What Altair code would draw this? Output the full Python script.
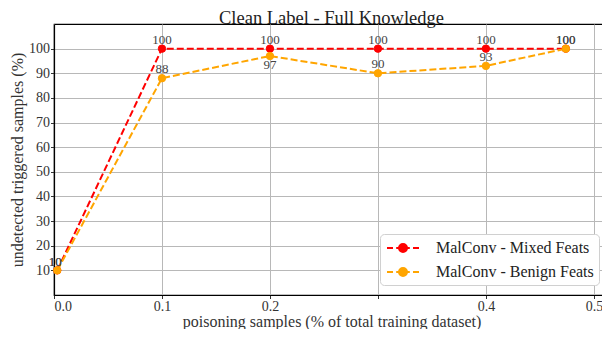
import altair as alt
import pandas as pd

x_vals = [0.003, 0.1, 0.2, 0.3, 0.4, 0.474]
mixed = [10, 100, 100, 100, 100, 100]
benign = [10, 88, 97, 90, 93, 100]
series_names = ["MalConv - Mixed Feats", "MalConv - Benign Feats"]
colors = ["#ff0000", "#ffa500"]

rows = []
for i, x in enumerate(x_vals):
    rows.append({"x": x, "y": mixed[i], "series": series_names[0], "order": 0})
for i, x in enumerate(x_vals):
    rows.append({"x": x, "y": benign[i], "series": series_names[1], "order": 1})
df = pd.DataFrame(rows)

FONT = "Liberation Serif"

xs = alt.Scale(domain=[0, 0.514], nice=False, zero=False)
ys = alt.Scale(domain=[0, 110], nice=False)
cs = alt.Scale(domain=series_names, range=colors)

sym_path = ("M-2,0H-1.25M-0.85,0H-0.5M0.5,0H0.85M1.25,0H2"
            "M-0.5,0A0.5,0.5 0 1,1 0.5,0A0.5,0.5 0 1,1 -0.5,0Z")

axis_style = dict(labelFont=FONT, labelFontSize=14, labelColor="#333",
                  titleFont=FONT, titleFontSize=16, titleFontWeight="normal",
                  titleColor="#333", tickSize=3.5, labelPadding=1)

X = alt.X("x:Q", scale=xs, title="poisoning samples (% of total training dataset)",
          axis=alt.Axis(values=[0, 0.1, 0.2, 0.3, 0.4, 0.5], titlePadding=0,
                        labelExpr="abs(datum.value-0.3)<0.001 ? '' : format(datum.value,'.1f')",
                        **axis_style))
Y = alt.Y("y:Q", scale=ys, title="undetected triggered samples (%)",
          axis=alt.Axis(values=[10, 20, 30, 40, 50, 60, 70, 80, 90, 100], titlePadding=3,
                        **axis_style))

legend = alt.Legend(
    title=None, orient="bottom-right", symbolType=sym_path, symbolSize=256,
    symbolStrokeWidth=2, labelFont=FONT, labelFontSize=16, labelColor="#222",
    padding=5, rowPadding=7, offset=10, strokeColor="#d0d0d0", fillColor="white",
    cornerRadius=4, labelOffset=24, symbolOffset=9,
)

base = alt.Chart(df)

lines = base.mark_line(strokeDash=[7, 3], strokeWidth=2).encode(
    x=X, y=Y,
    stroke=alt.Stroke("series:N", scale=cs, legend=legend),
    detail="series:N",
)

points = base.mark_point(filled=True, size=55, opacity=1, strokeWidth=1).encode(
    x=X, y=Y,
    fill=alt.Fill("series:N", scale=cs, legend=legend),
    stroke=alt.Stroke("series:N", scale=cs, legend=legend),
    order="order:Q",
)

lbl = dict(font=FONT, fontSize=13, color="#444", baseline="alphabetic")
above = base.transform_filter(
    ~((alt.datum.y == 97) & (alt.datum.order == 1)) & ~(alt.datum.x < 0.05)
).mark_text(dy=-5, **lbl).encode(x=X, y=Y, text="y:Q")
below = base.transform_filter(
    (alt.datum.y == 97) & (alt.datum.order == 1)
).mark_text(dy=13, **lbl).encode(x=X, y=Y, text="y:Q")
first = base.transform_filter(
    alt.datum.x < 0.05
).mark_text(dy=-4, dx=-2, **lbl).encode(x=X, y=Y, text="y:Q")

chart = alt.layer(lines, points, above, below, first).properties(
    width=555, height=271,
    title=alt.TitleParams("Clean Label - Full Knowledge", font=FONT, fontSize=18.5,
                          fontWeight="normal", color="#222", offset=1, dy=4),
    autosize=alt.AutoSizeParams(type="none"),
    padding={"left": 46, "top": 16, "right": -7, "bottom": 34},
).configure(font=FONT).configure_view(stroke="black", strokeWidth=1.2).configure_axis(
    grid=True, gridColor="#b8b8b8", gridWidth=1, domainColor="black", domainWidth=1.2,
    tickColor="#333",
)

chart.save("out.html", embed_options={"renderer": "svg", "actions": False})
